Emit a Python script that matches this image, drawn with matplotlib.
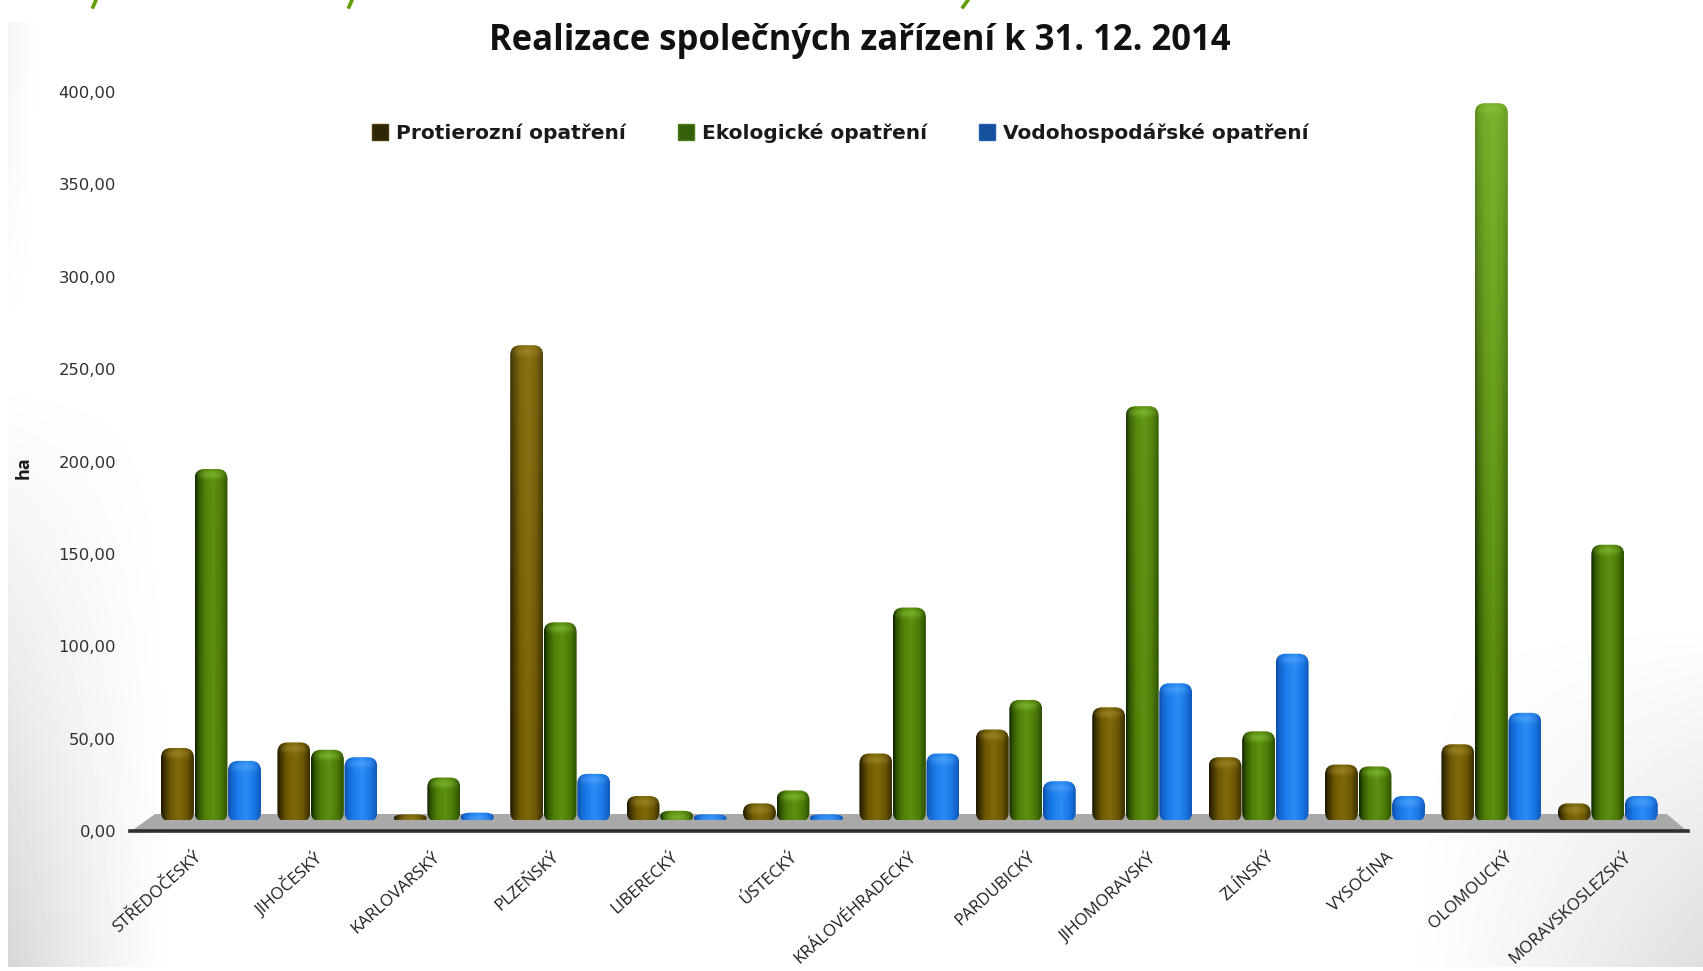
import numpy as np
import matplotlib
matplotlib.use("Agg")
import matplotlib.pyplot as plt
from matplotlib.patches import FancyBboxPatch, Patch, Polygon
from matplotlib.lines import Line2D

# Land reform data: completed shared facilities per region (ha)
regions = ["STŘEDOČESKÝ", "JIHOČESKÝ", "KARLOVARSKÝ", "PLZEŇSKÝ", "LIBERECKÝ", "ÚSTECKÝ",
           "KRÁLOVÉHRADECKÝ", "PARDUBICKÝ", "JIHOMORAVSKÝ", "ZLÍNSKÝ", "VYSOČINA",
           "OLOMOUCKÝ", "MORAVSKOSLEZSKÝ"]
protierozni = [39, 42, 3, 257, 13, 9, 36, 49, 61, 34, 30, 41, 9]
ekologicke = [190, 38, 23, 107, 5, 16, 115, 65, 224, 48, 29, 388, 149]
vodohospodarske = [32, 34, 4, 25, 3, 3, 36, 21, 74, 90, 13, 58, 13]
y_ticks = [0, 50, 100, 150, 200, 250, 300, 350, 400]
y_tick_labels = ["0,00", "50,00", "100,00", "150,00", "200,00", "250,00", "300,00", "350,00", "400,00"]

W, H = 1703, 971
fig = plt.figure(figsize=(W / 100, H / 100), dpi=100, facecolor="white")


def box(left, top, right, bottom):
    """Figure-fraction rectangle from pixel edges measured from the top left."""
    return [left / W, 1 - bottom / H, (right - left) / W, (bottom - top) / H]


# Soft grey page vignette behind the chart
bg = fig.add_axes([0, 0, 1, 1], zorder=0)
yy, xx = np.mgrid[0:H, 0:W]
left_fade = np.clip(1 - (xx - 8) / 170, 0, 1)
right_fade = np.clip(1 - (W - xx) / 300, 0, 1)
lower = np.clip((yy - 380) / 590, 0, 1)
lower_r = np.clip((yy - 620) / 350, 0, 1)
shade = 0.16 * left_fade ** 1.3 * lower + 0.13 * right_fade ** 1.2 * lower_r
shade += 0.04 * np.clip(1 - (xx - 8) / 30, 0, 1) * np.clip(1 - (yy - 20) / 330, 0, 1)
shade[(xx < 8) | (yy < 22) | (yy > 966)] = 0
bg.imshow(1 - shade, cmap="gray", vmin=0, vmax=1, aspect="auto")
bg.axis("off")

# Bars sit on the back edge of the floor; the value scale is on its front edge
ax = fig.add_axes(box(130, 81, 1688, 820), zorder=2)
ax.patch.set_alpha(0)
px_x = 116.4
px_y = 1.847
xlim = ((130 - 211) / px_x, (1688 - 211) / px_x)
ax.set_xlim(*xlim)
ax.set_ylim(0, 400)
ax.axis("off")

scale = fig.add_axes(box(130, 92, 1688, 831), zorder=1)
scale.patch.set_alpha(0)
scale.set_xlim((130 - 194) / 119.17, (1688 - 194) / 119.17)
scale.set_ylim(0, 400)
for s in scale.spines.values():
    s.set_visible(False)
scale.set_yticks(y_ticks, y_tick_labels, fontfamily="DejaVu Sans", fontsize=11.8, color="#303030")
scale.tick_params(axis="y", length=0, pad=10)
scale.set_xticks(range(len(regions)))
scale.set_xticklabels(regions, rotation=42, ha="right", va="top", rotation_mode="anchor",
                      fontfamily="Open Sans", fontsize=12.2, color="#1e1e1e")
scale.tick_params(axis="x", length=0, pad=13)

# Floor of the 3D plot
def to_x(px):
    return (px - 211) / px_x


def to_y(px):
    return (820 - px) / px_y


ax.add_patch(Polygon([(to_x(155), to_y(814)), (to_x(1667), to_y(814)), (to_x(1688), to_y(832)),
                      (to_x(130), to_y(832))], closed=True, facecolor="#a9a9a9",
                     edgecolor="none", clip_on=False, zorder=1))
ax.add_line(Line2D([to_x(130), to_x(1688)], [to_y(831)] * 2, color="#303030", lw=2.6,
                   clip_on=False, zorder=1.5))

# Cross-section colour of each cylinder: dark left flank, bright centre, darker right rim
stops = np.array([0, 0.1, 0.3, 0.55, 0.8, 1.0])
profiles = {
    "brown": ["#1e1700", "#3d3000", "#6f5a04", "#7f6a0a", "#6a5604", "#3a2e00"],
    "green": ["#0e2400", "#2f5200", "#4f7f08", "#5d9010", "#4c7a08", "#2c5000"],
    "blue": ["#0b4aa5", "#1465cc", "#1a7cee", "#2b8cf5", "#1a78e6", "#1059bb"],
}
rims = {"brown": "#a89030", "green": "#8cc63c", "blue": "#5aaaf8"}


def rgb(c):
    return np.array(matplotlib.colors.to_rgb(c))


def draw_bar(x, value, name, width=0.283):
    base = -1.0
    n = 48
    u = np.linspace(0, 1, n)
    prof = np.stack([np.interp(u, stops, [rgb(c)[k] for c in profiles[name]]) for k in range(3)], axis=1)
    rows = max(int((value - base) * px_y), 2)
    img = np.repeat(prof[None, :, :], rows, axis=0)
    # brighter cap just under the top, lighter shaft on the tallest columns
    depth = np.arange(rows)[:, None, None]
    cap = np.exp(-((depth - 6.0) / 4.0) ** 2) * 0.55 * np.sin(np.pi * u)[None, :, None]
    img = img * (1 - cap) + rgb(rims[name]) * cap
    strength = np.clip((value - 180) / 210, 0, 1) * 0.65
    if strength > 0:
        height_frac = np.clip(1 - depth / (rows * 0.8), 0, 1) * strength
        img = img * (1 - height_frac) + rgb(rims[name]) * height_frac
    im = ax.imshow(img, extent=(x - width / 2, x + width / 2, base, value), aspect="auto",
                   origin="upper", zorder=3 + x / 100, interpolation="bilinear")
    radius = 0.085
    aspect = min(px_x / px_y, (value - base) / (2 * radius))
    outline = FancyBboxPatch((x - width / 2, base), width, value - base,
                             boxstyle=f"round,pad=0,rounding_size={radius}",
                             mutation_aspect=aspect, transform=ax.transData,
                             facecolor="none", edgecolor="none")
    ax.add_patch(outline)
    im.set_clip_path(outline)
    im.set_clip_on(True)


offset = 0.288
for i in range(len(regions)):
    draw_bar(i - offset, protierozni[i], "brown")
    draw_bar(i, ekologicke[i], "green")
    draw_bar(i + offset, vodohospodarske[i], "blue")
ax.set_xlim(*xlim)
ax.set_ylim(0, 400)

# Legend across the upper part of the plot
handles = [Patch(facecolor="#2e2406", edgecolor="#4a3a06"),
           Patch(facecolor="#34600c", edgecolor="#4a7a14"),
           Patch(facecolor="#14509c", edgecolor="#2060b0")]
fig.legend(handles, ["Protierozní opatření", "Ekologické opatření", "Vodohospodářské opatření"],
           ncol=3, loc="center left", bbox_to_anchor=(372 / W, 1 - 133 / H), frameon=False,
           borderpad=0, borderaxespad=0,
           handlelength=0.8, handleheight=0.8, handletextpad=0.38, columnspacing=2.6,
           prop={"family": "DejaVu Sans", "weight": "semibold", "size": 14.5}, labelcolor="#1a1a1a")

fig.text(860 / W, 1 - 41 / H, "Realizace společných zařízení k 31. 12. 2014", ha="center", va="center",
         fontfamily="Open Sans", fontweight="bold", fontsize=24.9, color="#111111")
fig.text(24 / W, 1 - 468 / H, "ha", rotation=90, ha="center", va="center",
         fontfamily="Open Sans", fontweight="bold", fontsize=13, color="#1a1a1a")

# Tail ends of a green heading line cut off by the top edge of the page
for x0, x1 in [(96, 93), (352, 349), (968, 963)]:
    fig.add_artist(Line2D([x0 / W, x1 / W], [1.0, 1 - 7 / H], color="#5f9e00", lw=2.6))

fig.savefig("out.png", dpi=100)
